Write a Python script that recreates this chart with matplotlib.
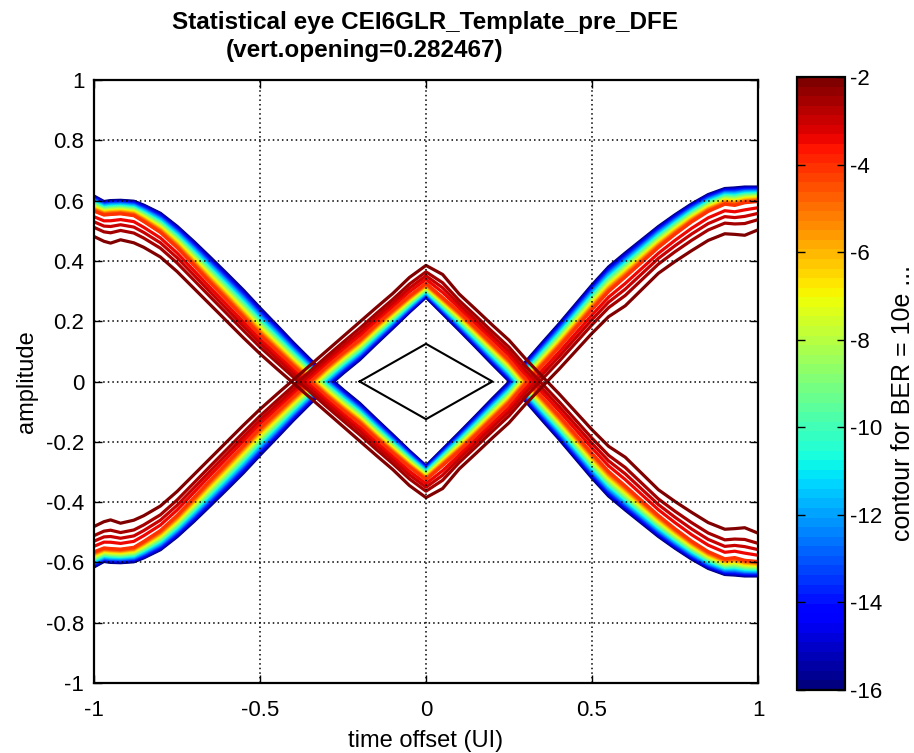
import numpy as np
import matplotlib.pyplot as plt
from matplotlib import colors, cm

plt.rcParams['font.family'] = ['Liberation Sans', 'DejaVu Sans']
plt.rcParams['axes.unicode_minus'] = False

# time offset samples (UI)
t_ui = [-1.0, -0.97, -0.95, -0.92, -0.88, -0.85, -0.8, -0.75, -0.7, -0.65,
        -0.6, -0.55, -0.5, -0.45, -0.4, -0.35, -0.3, -0.25, -0.2, -0.15,
        -0.1, -0.05, 0.0, 0.05, 0.1, 0.15, 0.2, 0.25, 0.3, 0.35,
        0.4, 0.45, 0.5, 0.55, 0.6, 0.65, 0.7, 0.75, 0.8, 0.85,
        0.9, 0.93, 0.96, 1.0]

# upper trace of the eye (lower trace is its mirror about 0):
# BER=1e-16 edge, BER=1e-4 edge and BER=1e-2 edge
edge_inner = [0.615, 0.597, 0.600, 0.601, 0.598, 0.585, 0.558, 0.515, 0.465, 0.412,
              0.358, 0.303, 0.244, 0.187, 0.129, 0.074, 0.021, -0.027, -0.072, -0.125,
              -0.177, -0.230, -0.280, -0.225, -0.170, -0.114, -0.057, -0.002, 0.065, 0.128,
              0.190, 0.255, 0.320, 0.380, 0.426, 0.470, 0.514, 0.553, 0.589, 0.620,
              0.640, 0.642, 0.645, 0.645]
edge_mid = [0.565, 0.552, 0.554, 0.556, 0.550, 0.530, 0.494, 0.444, 0.386, 0.327,
            0.270, 0.212, 0.154, 0.102, 0.050, 0.000, -0.050, -0.096, -0.139, -0.190,
            -0.238, -0.284, -0.326, -0.279, -0.231, -0.179, -0.126, -0.073, -0.009, 0.052,
            0.112, 0.175, 0.238, 0.298, 0.346, 0.395, 0.444, 0.488, 0.529, 0.564,
            0.588, 0.584, 0.593, 0.597]
edge_outer = [0.481, 0.465, 0.459, 0.470, 0.460, 0.445, 0.413, 0.365, 0.310, 0.255,
              0.200, 0.145, 0.092, 0.043, -0.005, -0.053, -0.101, -0.149, -0.197, -0.245,
              -0.292, -0.345, -0.385, -0.355, -0.290, -0.239, -0.187, -0.137, -0.075, -0.017,
              0.040, 0.100, 0.160, 0.215, 0.251, 0.305, 0.359, 0.398, 0.434, 0.468,
              0.490, 0.488, 0.485, 0.503]

# contour levels (log10 BER): dense part between the 1e-16 and 1e-4 edges
dense_levels = [-16, -15.5, -15, -14.5, -14, -13.5, -13, -12.5, -12, -11.5,
                -11, -10.5, -10, -9.5, -9, -8.5, -8, -7.5, -7, -6.5,
                -6, -5.5, -5, -4.5, -4]
dense_pos = [0.0, 0.042, 0.083, 0.125, 0.167, 0.208, 0.25, 0.292, 0.333, 0.375,
             0.417, 0.458, 0.5, 0.542, 0.583, 0.625, 0.667, 0.708, 0.75, 0.792,
             0.833, 0.875, 0.917, 0.958, 1.0]
# tail part between the 1e-4 and 1e-2 edges
tail_levels = [-3.5, -3, -2.5, -2]
tail_pos = [0.22, 0.42, 0.64, 1.0]

# eye mask
mask_t = [-0.2, 0.0, 0.2, 0.0, -0.2]
mask_v = [0.0, 0.125, 0.0, -0.125, 0.0]

fig = plt.figure(figsize=(9.14, 7.53), dpi=100)
ax = fig.add_axes([94 / 914, 1 - 683 / 753, 664 / 914, 603 / 753])

cmap = plt.get_cmap('jet', 64)
norm = colors.Normalize(vmin=-16, vmax=-2)

t = np.array(t_ui)
y16 = np.array(edge_inner)
y4 = np.array(edge_mid)
y2 = np.array(edge_outer)

curves = [(lev, y16 + f * (y4 - y16)) for lev, f in zip(dense_levels, dense_pos)]
curves += [(lev, y4 + f * (y2 - y4)) for lev, f in zip(tail_levels, tail_pos)]

for lev, y in curves:
    c = cmap(norm(lev))
    ax.plot(t, y, color=c, lw=2.3, solid_joinstyle='round')
    ax.plot(t, -y, color=c, lw=2.3, solid_joinstyle='round')

ax.plot(mask_t, mask_v, color='k', lw=1.5)

ax.set_xlim(-1, 1)
ax.set_ylim(-1, 1)
ax.set_xticks([-1, -0.5, 0, 0.5, 1])
ax.set_xticklabels(['-1', '-0.5', '0', '0.5', '1'])
ax.set_yticks(np.arange(-1, 1.01, 0.2))
ax.set_yticklabels(['-1', '-0.8', '-0.6', '-0.4', '-0.2', '0', '0.2', '0.4', '0.6', '0.8', '1'])
ax.grid(True, color='k', linestyle=(0, (1, 2)), lw=1.1)
ax.set_axisbelow(False)
ax.tick_params(direction='in', top=True, right=True, length=6, width=1, labelsize=16)
ax.tick_params(axis='x', pad=12)
ax.tick_params(axis='y', pad=7)
for s in ax.spines.values():
    s.set_linewidth(1.6)
ax.set_xlabel('time offset (UI)', fontsize=17, labelpad=7)
ax.set_ylabel('amplitude', fontsize=17, labelpad=6)

fig.text(425 / 914, 1 - 22 / 753, 'Statistical eye CEI6GLR_Template_pre_DFE',
         ha='center', va='center', fontsize=17.5, fontweight='bold')
fig.text(365 / 914, 1 - 50 / 753, '(vert.opening=0.282467)',
         ha='center', va='center', fontsize=17.5, fontweight='bold')

cax = fig.add_axes([797 / 914, 1 - 690 / 753, 48 / 914, 613 / 753])
cb = fig.colorbar(cm.ScalarMappable(norm=norm, cmap=cmap), cax=cax,
                  ticks=range(-16, -1, 2))
cax.tick_params(direction='in', left=True, right=True, length=6, width=1, labelsize=16)
cb.outline.set_linewidth(1.6)
fig.text(903 / 914, 1 - 403 / 753, 'contour for BER = 10e ...', rotation=90,
         ha='center', va='center', fontsize=18)

fig.savefig('out.png', dpi=100)
